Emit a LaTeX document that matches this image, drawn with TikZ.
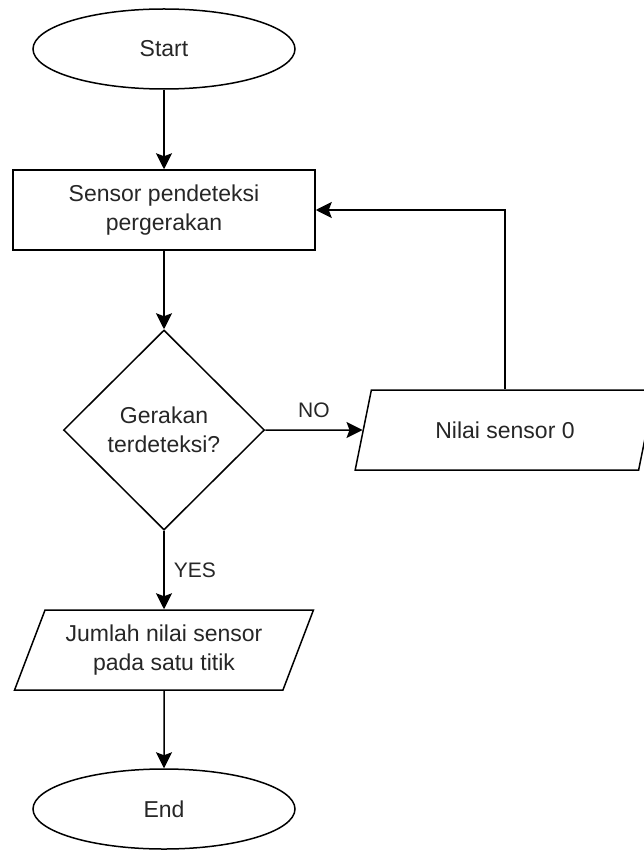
\documentclass[tikz,border=0pt]{standalone}
\usepackage{fontspec}
\setmainfont{Liberation Sans}
\usetikzlibrary{arrows.meta,shapes.geometric}
\definecolor{labelgray}{HTML}{262626}

\begin{document}
\begin{tikzpicture}[x=1pt,y=-1pt]
\tikzset{
  flowshape/.style={draw=black,line width=1.5pt,text=labelgray,align=center,inner sep=0pt,font=\fontsize{23}{29}\selectfont},
  terminal/.style={flowshape,ellipse,minimum width=262pt,minimum height=80pt},
  process/.style={flowshape,rectangle,minimum width=302pt,minimum height=80pt},
  decision/.style={flowshape,diamond,aspect=1,minimum width=201pt,minimum height=200pt},
  dataio/.style={flowshape,trapezium,trapezium left angle=63.43,trapezium right angle=116.57,trapezium stretches=true,minimum width=300pt,minimum height=80pt},
  flowedge/.style={draw=black,line width=1.5pt,-{Stealth[length=16pt,width=16pt,inset=3pt]}},
  edgelabel/.style={text=labelgray,inner sep=2pt,font=\fontsize{21}{25}\selectfont}
}
\useasboundingbox (0,0) rectangle (643,850);
\node[terminal] (n_start) at (164,49) {Start};
\node[process] (n_sensor) at (164,210) {Sensor pendeteksi\\pergerakan};
\node[decision] (n_gerak) at (164,430) {Gerakan\\terdeteksi?};
\node[dataio] (n_nilai) at (505,430) {Nilai sensor 0};
\node[dataio] (n_jumlah) at (164,650) {Jumlah nilai sensor\\pada satu titik};
\node[terminal] (n_end) at (164,809) {End};
\draw[flowedge] (n_start) -- (n_sensor);
\draw[flowedge] (n_sensor) -- (n_gerak);
\draw[flowedge] (n_gerak) -- node[edgelabel,above=10pt,midway] {NO} (n_nilai);
\draw[flowedge] (n_nilai.north) |- (n_sensor.east);
\draw[flowedge] (n_gerak) -- node[edgelabel,right=7pt,midway] {YES} (n_jumlah);
\draw[flowedge] (n_jumlah) -- (n_end);
\end{tikzpicture}
\end{document}
